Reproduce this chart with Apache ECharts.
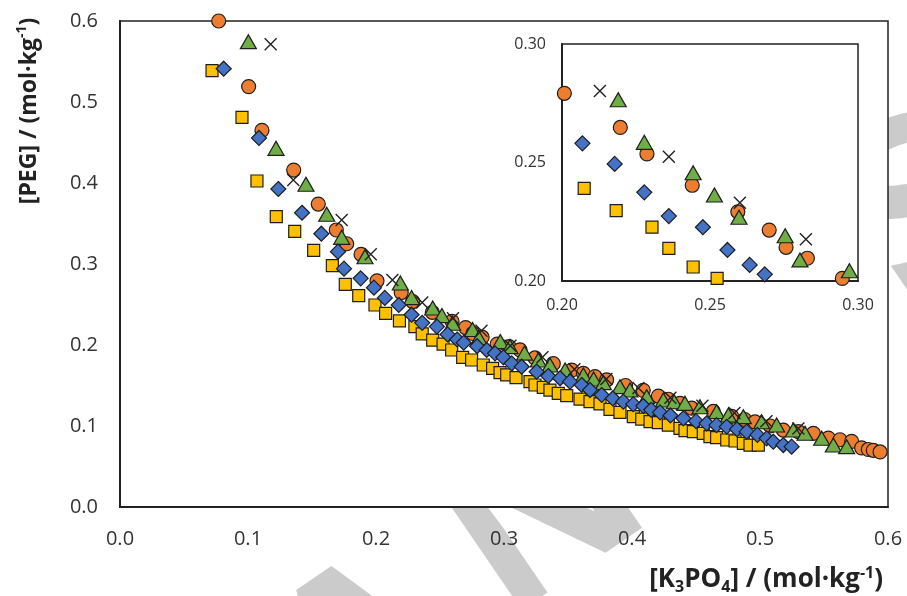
<!DOCTYPE html>
<html><head><meta charset="utf-8">
<script src="https://cdn.jsdelivr.net/npm/echarts@6/dist/echarts.min.js"></script>
<style>html,body{margin:0;padding:0;background:#fff}#c{width:907px;height:596px}</style>
</head><body><div id="c"></div>
<script>
// ---- data ----
const xTicks = [0.0, 0.1, 0.2, 0.3, 0.4, 0.5, 0.6];
const yTicks = [0.0, 0.1, 0.2, 0.3, 0.4, 0.5, 0.6];
const insetTicks = [0.20, 0.25, 0.30];

const yellowX = [0.0719,0.0953,0.1070,0.1221,0.1365,0.1513,0.1659,0.1760,0.1865,0.1992,0.2075,0.2183,0.2304,0.2361,0.2443,0.2524,0.2591,0.2677,0.2747,0.2838,0.2911,0.2969,0.3021,0.3094,0.3203,0.3242,0.3307,0.3359,0.3424,0.3490,0.3594,0.3672,0.3750,0.3828,0.3906,0.4010,0.4076,0.4141,0.4206,0.4284,0.4375,0.4414,0.4479,0.4557,0.4609,0.4661,0.4740,0.4805,0.4870,0.4922,0.4987];
const yellowY = [0.5387,0.4811,0.4025,0.3584,0.3403,0.3169,0.2979,0.2749,0.2609,0.2494,0.2391,0.2297,0.2227,0.2138,0.2059,0.2011,0.1938,0.1848,0.1815,0.1753,0.1712,0.1658,0.1630,0.1596,0.1547,0.1506,0.1477,0.1444,0.1403,0.1374,0.1333,0.1300,0.1272,0.1206,0.1169,0.1115,0.1086,0.1053,0.1041,0.1012,0.0971,0.0942,0.0930,0.0910,0.0868,0.0856,0.0827,0.0815,0.0786,0.0765,0.0765];

const orangeX = [0.0771,0.1005,0.1109,0.1357,0.1549,0.1690,0.1771,0.1883,0.2008,0.2197,0.2287,0.2440,0.2594,0.2700,0.2757,0.2829,0.2947,0.3040,0.3125,0.3242,0.3385,0.3529,0.3620,0.3711,0.3802,0.3950,0.4088,0.4206,0.4284,0.4375,0.4466,0.4635,0.4779,0.4880,0.4961,0.5080,0.5182,0.5300,0.5417,0.5534,0.5625,0.5716,0.5794,0.5846,0.5885,0.5938];
const orangeY = [0.600,0.519,0.465,0.416,0.374,0.342,0.325,0.312,0.2792,0.2648,0.2536,0.2404,0.2292,0.2215,0.2142,0.2096,0.2011,0.198,0.194,0.184,0.177,0.169,0.165,0.161,0.157,0.150,0.144,0.137,0.133,0.128,0.122,0.118,0.112,0.108,0.105,0.100,0.095,0.093,0.091,0.085,0.083,0.081,0.073,0.071,0.070,0.068];

const greenX = [0.1003,0.1219,0.1453,0.1615,0.1732,0.1914,0.2190,0.2278,0.2443,0.2515,0.2598,0.2754,0.2804,0.2971,0.3047,0.3160,0.3268,0.3359,0.3477,0.3620,0.3700,0.3776,0.3906,0.3984,0.4115,0.4245,0.4330,0.4414,0.4531,0.4661,0.4753,0.4870,0.5013,0.5130,0.5260,0.5352,0.5482,0.5573,0.5677];
const greenY = [0.5745,0.4428,0.3984,0.3614,0.3329,0.3090,0.2765,0.2585,0.2457,0.2363,0.2269,0.2191,0.2089,0.2043,0.198,0.190,0.1815,0.1753,0.1691,0.163,0.158,0.1535,0.1486,0.1444,0.1362,0.1321,0.130,0.128,0.1238,0.1177,0.1136,0.1115,0.1053,0.1012,0.0951,0.0910,0.0848,0.0765,0.0745];

const crossX = [0.1177,0.1354,0.1732,0.1959,0.2128,0.2361,0.2601,0.2824,0.3050,0.3300,0.3550,0.3800,0.4050,0.4300,0.4550,0.4800,0.5050,0.5300];
const crossY = [0.5712,0.4037,0.3543,0.3119,0.2802,0.2524,0.2330,0.2176,0.1990,0.1850,0.1700,0.1580,0.1470,0.1350,0.1250,0.1160,0.1060,0.0970];

const blueX = [0.0810,0.1086,0.1237,0.1422,0.1573,0.1703,0.1750,0.1880,0.1984,0.2069,0.2178,0.2278,0.2361,0.2476,0.2559,0.2634,0.2685,0.2790,0.2865,0.2930,0.2995,0.3060,0.3138,0.3255,0.3346,0.3438,0.3516,0.3607,0.3672,0.3763,0.3850,0.3932,0.4010,0.4088,0.4150,0.4219,0.4300,0.4401,0.4500,0.4583,0.4660,0.4740,0.4820,0.4896,0.4980,0.5052,0.5104,0.5182,0.5247];
const blueY = [0.5411,0.4556,0.3926,0.3633,0.3374,0.3152,0.2942,0.2823,0.2708,0.2581,0.2494,0.2374,0.2274,0.2227,0.2131,0.2068,0.2028,0.1985,0.1938,0.1897,0.1848,0.1774,0.1732,0.1671,0.1617,0.1589,0.1547,0.1506,0.1444,0.1383,0.134,0.1300,0.127,0.1247,0.120,0.1169,0.113,0.1095,0.106,0.1033,0.101,0.0991,0.096,0.0930,0.089,0.0848,0.0806,0.0765,0.0745];

// ---- build ----
const zip = (xs, ys) => xs.map((x, i) => [x, ys[i]]);
const FONT = '"Open Sans", "Noto Sans", sans-serif';
const EDGE = '#1e1e1e';
const sets = [
  {name:'yellow', data: zip(yellowX, yellowY), symbol:'rect', size:[12,12], color:'#FFC000'},
  {name:'orange', data: zip(orangeX, orangeY), symbol:'circle', size:14, color:'#ED7D31'},
  {name:'green', data: zip(greenX, greenY), symbol:'triangle', size:[16,14], color:'#70AD47'},
  {name:'cross', data: zip(crossX, crossY), symbol:'path://M0,0L10,10M10,0L0,10', size:12, color:'rgba(0,0,0,0)', cross:true},
  {name:'blue', data: zip(blueX, blueY), symbol:'diamond', size:15, color:'#4472C4'}
];
const series = [];
[0,1].forEach(ax => {
  sets.forEach(s => {
    series.push({
      type:'scatter', name:s.name, xAxisIndex:ax, yAxisIndex:ax, data:s.data, z:2,
      symbol:s.symbol, symbolSize:s.size, clip:true, silent:true,
      itemStyle:{color:s.color, borderColor: s.cross ? '#222' : EDGE, borderWidth: s.cross ? 1.4 : 1.2, opacity:1}
    });
  });
});

const axisLabelMain = {fontFamily:FONT, fontSize:20, color:'#333', margin:22};
const axisLabelInset = {fontFamily:FONT, fontSize:16, color:'#333', margin:16};
const axisLine = {show:true, onZero:false, lineStyle:{color:'#222', width:2}};

const WM = 'bold 230px "Open Sans", sans-serif';
const chart = echarts.init(document.getElementById('c'), null, {renderer:'canvas'});
chart.setOption({
  animation:false,
  backgroundColor:'#fff',
  grid:[
    {left:120, top:21, width:768, height:486, show:true, backgroundColor:'#fff', borderColor:'#222', borderWidth:1.5, z:0},
    {left:562, top:44, width:296, height:237, show:true, backgroundColor:'#fff', borderColor:'#222', borderWidth:1.5, z:0}
  ],
  xAxis:[
    {type:'value', gridIndex:0, z:1, min:xTicks[0], max:xTicks[xTicks.length-1], interval:0.1, axisLine, axisTick:{show:false}, splitLine:{show:false},
     axisLabel:{...axisLabelMain, formatter:v=>v.toFixed(1)}},
    {type:'value', gridIndex:1, z:1, min:insetTicks[0], max:insetTicks[insetTicks.length-1], interval:0.05, axisLine, axisTick:{show:false}, splitLine:{show:false},
     axisLabel:{...axisLabelInset, formatter:v=>v.toFixed(2)}}
  ],
  yAxis:[
    {type:'value', gridIndex:0, z:1, min:yTicks[0], max:yTicks[yTicks.length-1], interval:0.1, axisLine, axisTick:{show:false}, splitLine:{show:false},
     axisLabel:{...axisLabelMain, formatter:v=>v.toFixed(1)}},
    {type:'value', gridIndex:1, z:1, min:insetTicks[0], max:insetTicks[insetTicks.length-1], interval:0.05, axisLine, axisTick:{show:false}, splitLine:{show:false},
     axisLabel:{...axisLabelInset, formatter:v=>v.toFixed(2)}}
  ],
  series,
  graphic:[
    {type:'text', z:-100, x:370, y:660, rotation:0.6, style:{text:'A', font:WM, fill:'#cbcbcb', align:'center', verticalAlign:'middle'}},
    {type:'text', z:-100, x:545, y:515, rotation:0.6, style:{text:'N', font:WM, fill:'#cbcbcb', align:'center', verticalAlign:'middle'}},
    {type:'text', z:-100, x:920, y:215, rotation:0.6, style:{text:'S', font:WM, fill:'#cbcbcb', align:'center', verticalAlign:'middle'}},
    {type:'text', z:10, x:28, y:111, rotation:Math.PI/2,
     style:{text:'{a|[PEG] / (mol·kg}{p|-1}{a|)}', align:'center', verticalAlign:'middle',
       rich:{a:{font:'bold 23px "Open Sans", sans-serif', fill:'#222', verticalAlign:'bottom', lineHeight:26},
             p:{font:'bold 14px "Open Sans", sans-serif', fill:'#222', verticalAlign:'top', lineHeight:26}}}},
    {type:'text', z:10, x:883, y:580,
     style:{text:'{a|[K}{s|3}{a|PO}{s|4}{a|] / (mol·kg}{p|-1}{a|)}', align:'right', verticalAlign:'middle',
       rich:{a:{font:'bold 26px "Open Sans", sans-serif', fill:'#222', verticalAlign:'middle', lineHeight:30},
             s:{font:'bold 16px "Open Sans", sans-serif', fill:'#222', verticalAlign:'bottom', lineHeight:30},
             p:{font:'bold 16px "Open Sans", sans-serif', fill:'#222', verticalAlign:'top', lineHeight:30}}}}
  ]
});
</script>
</body></html>
